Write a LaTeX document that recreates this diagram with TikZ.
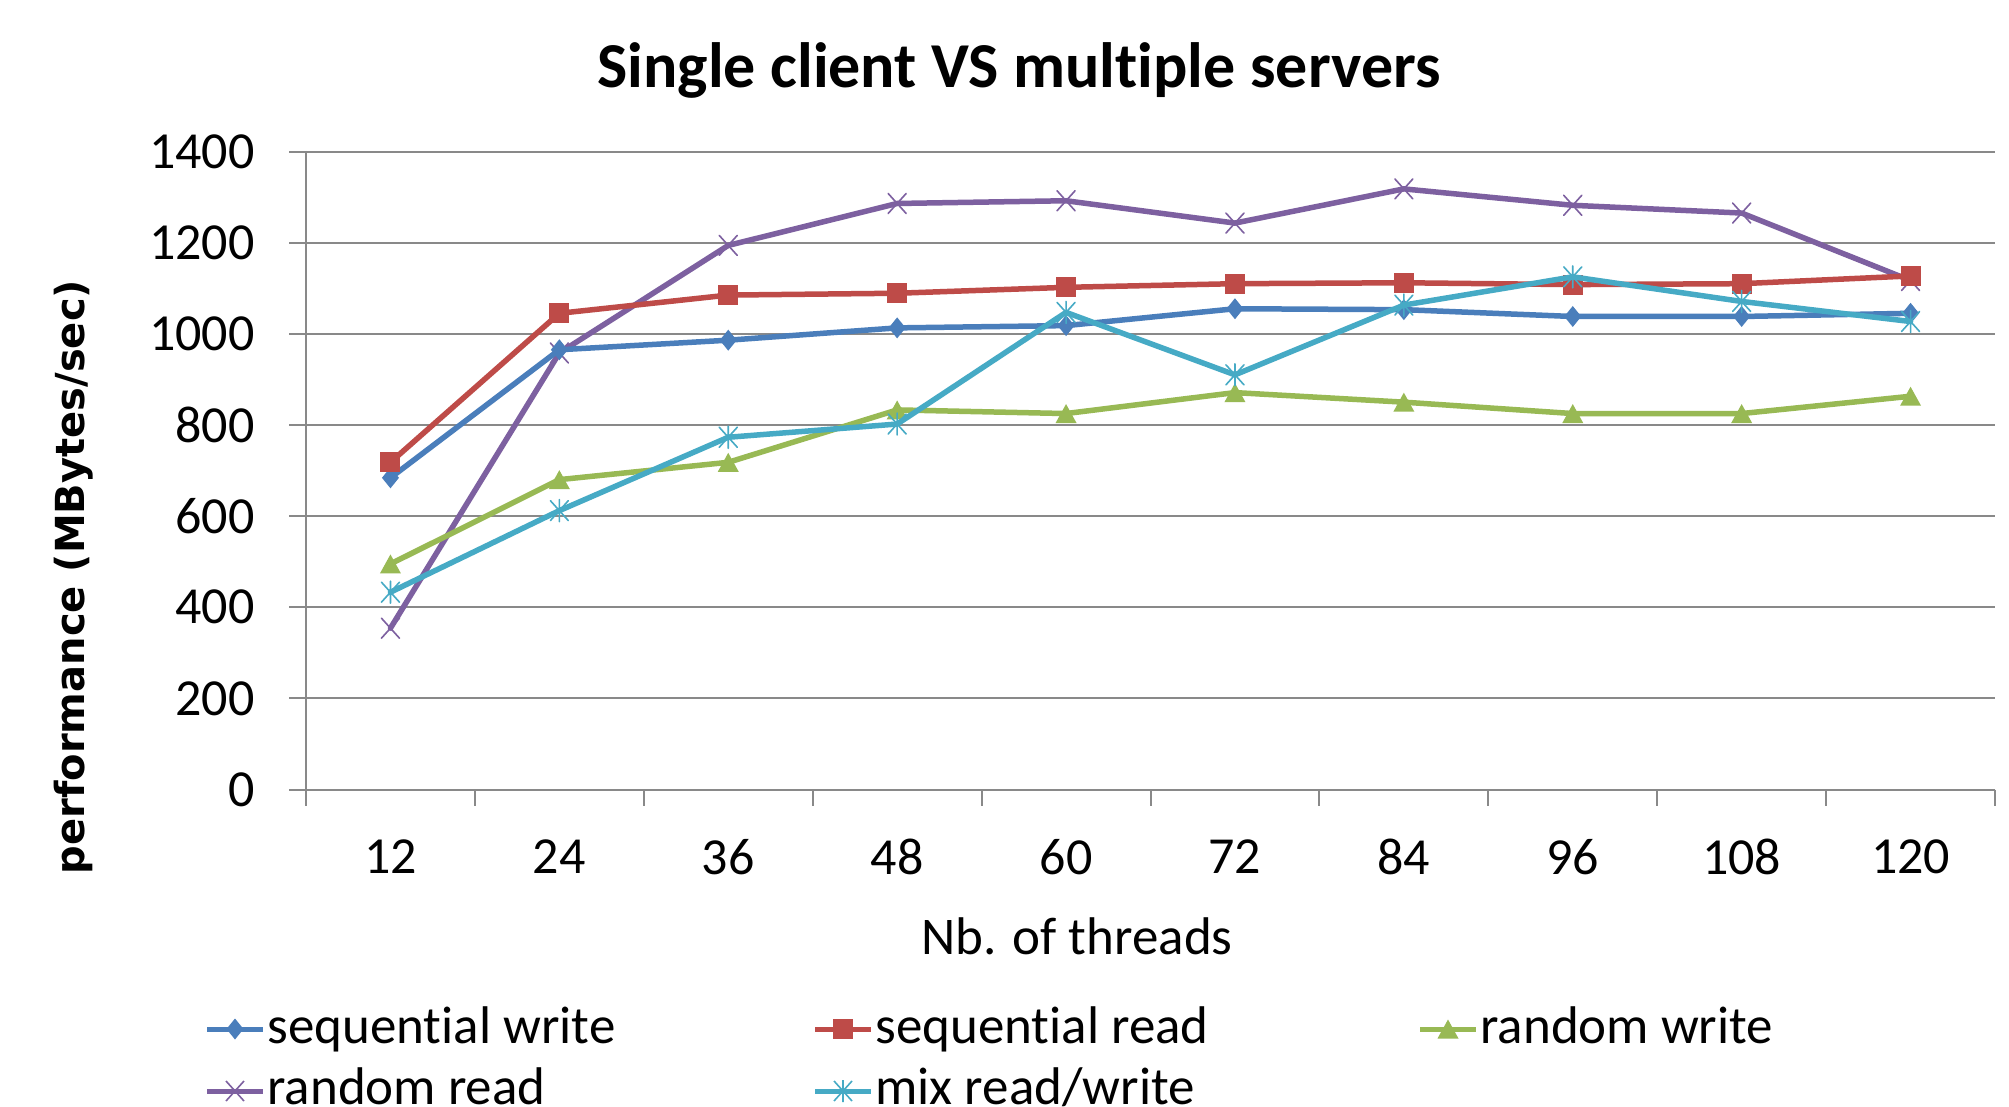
\documentclass[tikz,border=0pt]{standalone}
\usepackage{fontspec}
\setmainfont{Carlito}[Ligatures={NoCommon}]
\newfontfamily\axisfont{DejaVu Sans}
\usetikzlibrary{plotmarks}

\definecolor{swcol}{HTML}{4A7EBB}
\definecolor{srcol}{HTML}{BE4B48}
\definecolor{rwcol}{HTML}{98B954}
\definecolor{rrcol}{HTML}{7D60A0}
\definecolor{mxcol}{HTML}{46AAC5}
\definecolor{gridcol}{HTML}{898989}

% marker shapes (sizes in pt; 1 px = 0.5 pt)
\pgfdeclareplotmark{mdiamond}{%
  \pgfpathmoveto{\pgfqpoint{0pt}{5.25pt}}%
  \pgfpathlineto{\pgfqpoint{4.25pt}{0pt}}%
  \pgfpathlineto{\pgfqpoint{0pt}{-5.25pt}}%
  \pgfpathlineto{\pgfqpoint{-4.25pt}{0pt}}%
  \pgfpathclose\pgfusepathqfill}
\pgfdeclareplotmark{msquare}{%
  \pgfpathrectangle{\pgfqpoint{-5pt}{-5pt}}{\pgfqpoint{10pt}{10pt}}%
  \pgfusepathqfill}
\pgfdeclareplotmark{mtriangle}{%
  \pgfpathmoveto{\pgfqpoint{0pt}{4.75pt}}%
  \pgfpathlineto{\pgfqpoint{5.25pt}{-4.75pt}}%
  \pgfpathlineto{\pgfqpoint{-5.25pt}{-4.75pt}}%
  \pgfpathclose\pgfusepathqfill}
\pgfdeclareplotmark{mcross}{%
  \pgfpathmoveto{\pgfqpoint{-4.5pt}{-5pt}}\pgfpathlineto{\pgfqpoint{4.5pt}{5pt}}%
  \pgfpathmoveto{\pgfqpoint{-4.5pt}{5pt}}\pgfpathlineto{\pgfqpoint{4.5pt}{-5pt}}%
  \pgfusepathqstroke}
\pgfdeclareplotmark{mstar}{%
  \pgfpathmoveto{\pgfqpoint{-4.5pt}{-5pt}}\pgfpathlineto{\pgfqpoint{4.5pt}{5pt}}%
  \pgfpathmoveto{\pgfqpoint{-4.5pt}{5pt}}\pgfpathlineto{\pgfqpoint{4.5pt}{-5pt}}%
  \pgfpathmoveto{\pgfqpoint{0pt}{-5.5pt}}\pgfpathlineto{\pgfqpoint{0pt}{5.5pt}}%
  \pgfusepathqstroke}

\begin{document}
\begin{tikzpicture}[x=0.5pt,y=-0.5pt,
  gridline/.style={draw=gridcol,line width=1pt},
  series/.style={line width=2.75pt,line join=round,line cap=round},
  swline/.style={series,draw=swcol,mark=mdiamond,mark options={fill=swcol}},
  srline/.style={series,draw=srcol,mark=msquare,mark options={fill=srcol}},
  rwline/.style={series,draw=rwcol,mark=mtriangle,mark options={fill=rwcol}},
  rrline/.style={series,draw=rrcol,mark=mcross,mark options={line width=0.8pt}},
  mxline/.style={series,draw=mxcol,mark=mstar,mark options={line width=0.8pt}},
  keyline/.style={line width=2.5pt},
  ticklab/.style={inner sep=0pt,font=\fontsize{26}{30}\selectfont},
  keylab/.style={inner sep=0pt,anchor=base west,font=\fontsize{26.5}{30}\selectfont}]

\useasboundingbox (0,0) rectangle (2009,1107);
\fill[white] (0,0) rectangle (2009,1107);
\clip (0,0) rectangle (2009,1107);

% title and axis titles
\node[inner sep=0pt,anchor=base,font=\fontsize{32}{38}\bfseries] (title) at (1019,88) {Single client VS multiple servers};
\node[inner sep=0pt,rotate=90,font=\axisfont\bfseries\fontsize{20}{24}\selectfont] (ytitle) at (74,577) {performance (MBytes/sec)};
\node[inner sep=0pt,anchor=base,font=\fontsize{26.5}{30}\selectfont] (xtitle) at (1077,954) {Nb. of threads};

% horizontal grid lines and value labels
\foreach \v in {0,200,...,1400} {
  \pgfmathsetmacro{\gy}{789.5-0.4557*\v}
  \draw[gridline] (289,\gy) -- (1995,\gy);
  \node[ticklab,anchor=east] (ylab\v) at (255,\gy) {\v};
}
% vertical axis and category ticks
\draw[gridline] (306,151) -- (306,806);
\foreach \k in {1,...,10} {
  \pgfmathsetmacro{\tx}{306+168.9*\k}
  \draw[gridline] (\tx,789.5) -- (\tx,806);
}
\foreach \t [count=\i from 0] in {12,24,36,48,60,72,84,96,108,120} {
  \node[ticklab] (xlab\t) at ({390.45+168.9*\i},857) {\t};
}

% data series
\begin{scope}[shift={(110.775pt,-394.75pt)},x=7.0375pt,y=0.22785pt]
  \draw[rrline] plot coordinates {(12,354) (24,958) (36,1194) (48,1286) (60,1292) (72,1243) (84,1318) (96,1282) (108,1265) (120,1117)};
  \draw[rwline] plot coordinates {(12,495) (24,680) (36,718) (48,833) (60,825) (72,871) (84,850) (96,825) (108,825) (120,863)};
  \draw[swline] plot coordinates {(12,684) (24,965) (36,986) (48,1013) (60,1018) (72,1055) (84,1053) (96,1038) (108,1038) (120,1045)};
  \draw[srline] plot coordinates {(12,718) (24,1045) (36,1085) (48,1089) (60,1102) (72,1110) (84,1112) (96,1108) (108,1110) (120,1127)};
  \draw[mxline] plot coordinates {(12,433) (24,612) (36,773) (48,802) (60,1047) (72,910) (84,1063) (96,1125) (108,1071) (120,1027)};
\end{scope}

% legend
\draw[keyline,draw=swcol] (207,1029) -- (263,1029);
\path plot[mark=mdiamond,mark options={fill=swcol}] coordinates {(235,1029)};
\node[keylab] (k1) at (267,1043) {sequential write};

\draw[keyline,draw=srcol] (815,1029) -- (871,1029);
\path plot[mark=msquare,mark options={fill=srcol}] coordinates {(843,1029)};
\node[keylab] (k2) at (875,1043) {sequential read};

\draw[keyline,draw=rwcol] (1420,1029) -- (1476,1029);
\path plot[mark=mtriangle,mark options={fill=rwcol}] coordinates {(1448,1029)};
\node[keylab] (k3) at (1480,1043) {random write};

\draw[keyline,draw=rrcol] (207,1091) -- (263,1091);
\path plot[mark=mcross,mark options={draw=rrcol,line width=0.8pt}] coordinates {(235,1091)};
\node[keylab] (k4) at (267,1104) {random read};

\draw[keyline,draw=mxcol] (815,1091) -- (871,1091);
\path plot[mark=mstar,mark options={draw=mxcol,line width=0.8pt}] coordinates {(843,1091)};
\node[keylab] (k5) at (875,1104) {mix read/write};
\end{tikzpicture}
\end{document}
